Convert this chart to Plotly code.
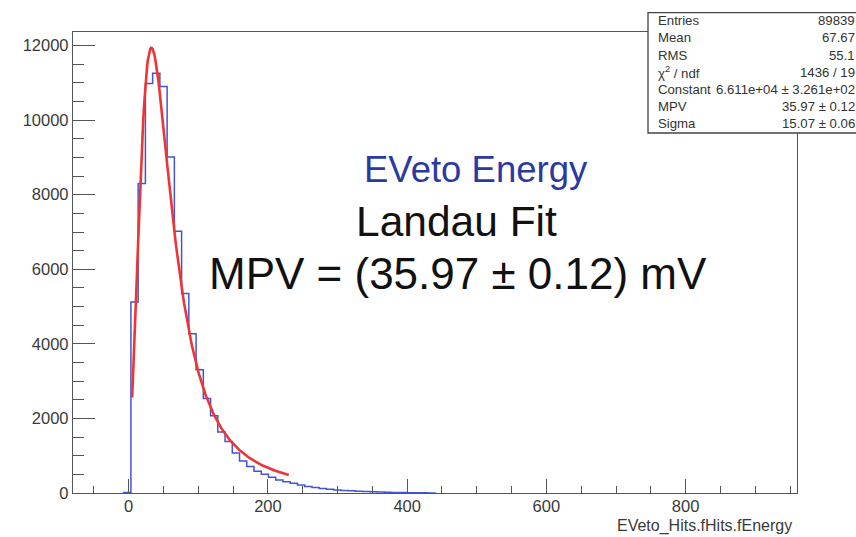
import numpy as np
import plotly.graph_objects as go

# ---- histogram: 100 bins on [-80, 960] ----
x_min, x_max, n_bins = -80.0, 960.0, 100
first_bin = 7  # index of the first filled bin (lower edge -7.2)
counts = [12, 5120, 8300, 10980, 11260, 10900, 9010, 7020, 5350, 4270,
          3306, 2535, 2069, 1635, 1379, 1075, 860, 710, 580, 500,
          420, 350, 305, 260, 215, 175, 145, 120, 100, 82,
          70, 58, 48, 40, 33, 26, 20, 16, 12, 9,
          7, 5, 3]

# ---- Landau fit result ----
fit_const = 6.611e4
fit_mpv = 35.97
fit_sigma = 15.07
fit_lo, fit_hi = 5.0, 230.0

# ---- statistics box ----
stats_labels = ["Entries", "Mean", "RMS", "\u03c7<sup>2</sup> / ndf",
                "Constant", "MPV", "Sigma"]
stats_values = ["89839", "67.67", "55.1", "1436 / 19",
                "6.611e+04 \u00b1 3.261e+02", "35.97 \u00b1 0.12", "15.07 \u00b1 0.06"]

x_ticks = [0, 200, 400, 600, 800]
y_ticks = [0, 2000, 4000, 6000, 8000, 10000, 12000]
y_top = 12364

W, H = 856, 537
ML, MR, MT, MB = 73, 59, 32, 44
PW, PH = W - ML - MR, H - MT - MB


def px(x):
    return (x - ML) / PW


def py(y):
    return (H - MB - y) / PH


def landau_density(lam):
    """Standard Landau density via its integral representation."""
    t = np.linspace(1e-9, 40.0, 200001)
    base = -t * np.log(t)
    s = np.sin(np.pi * t)
    return np.array([np.trapezoid(np.exp(base - l * t) * s, t) / np.pi for l in lam])


bin_w = (x_max - x_min) / n_bins
edges = x_min + bin_w * np.arange(first_bin, first_bin + len(counts) + 1)
hx = [edges[0]] + list(edges[:-1]) + [edges[-1]]
hy = [0] + list(counts) + [0]

fx = np.linspace(fit_lo, fit_hi, 200)
fy = fit_const * landau_density((fx - fit_mpv) / fit_sigma)

fig = go.Figure()
fig.add_trace(go.Scatter(x=hx, y=hy, mode="lines", line_shape="hv",
                         line=dict(color="#4354D6", width=1.5), hoverinfo="skip"))
fig.add_trace(go.Scatter(x=fx, y=fy, mode="lines",
                         line=dict(color="#F03434", width=2.6), hoverinfo="skip"))

axis_col = "#555555"
sans = "Liberation Sans, Arial, sans-serif"
tick_font = dict(family=sans, size=16.5, color="#3a3a3a")

fig.update_xaxes(range=[x_min, x_max], tickvals=x_ticks, ticks="inside", ticklen=14,
                 tickwidth=1.2, tickcolor=axis_col, showline=True, linecolor=axis_col,
                 linewidth=1.3, mirror=True, showgrid=False, zeroline=False,
                 tickfont=tick_font, tickformat="d", ticklabelstandoff=-2,
                 minor=dict(dtick=50, ticks="inside", ticklen=7, tickcolor=axis_col,
                            tickwidth=1.2, showgrid=False))
fig.update_yaxes(range=[0, y_top], tickvals=y_ticks, ticks="inside", ticklen=22,
                 tickwidth=1.2, tickcolor=axis_col, showline=True, linecolor=axis_col,
                 linewidth=1.3, mirror=True, showgrid=False, zeroline=False,
                 tickfont=tick_font, tickformat="d",
                 minor=dict(dtick=500, ticks="inside", ticklen=11, tickcolor=axis_col,
                            tickwidth=1.2, showgrid=False))

annotations = [
    dict(x=px(794), y=py(526), xref="paper", yref="paper", xanchor="right",
         yanchor="middle", showarrow=False, text="EVeto_Hits.fHits.fEnergy",
         font=dict(family=sans, size=16, color="#3a3a3a")),
    dict(x=px(476), y=py(169), xref="paper", yref="paper", xanchor="center",
         yanchor="middle", showarrow=False, text="EVeto Energy",
         font=dict(family=sans, size=36.5, color="#2B3AA0")),
    dict(x=px(456), y=py(221), xref="paper", yref="paper", xanchor="center",
         yanchor="middle", showarrow=False, text="Landau Fit",
         font=dict(family=sans, size=42.5, color="#111111")),
    dict(x=px(458), y=py(273), xref="paper", yref="paper", xanchor="center",
         yanchor="middle", showarrow=False, text="MPV = (35.97 \u00b1 0.12) mV",
         font=dict(family=sans, size=44, color="#111111")),
]

stats_font = dict(family=sans, size=13.2, color="#333333")
for i, (lab, val) in enumerate(zip(stats_labels, stats_values)):
    yc = 21 + 17 * i
    annotations.append(dict(x=px(656), y=py(yc), xref="paper", yref="paper",
                            xanchor="left", yanchor="middle", showarrow=False,
                            text=lab, font=stats_font))
    annotations.append(dict(x=px(857), y=py(yc), xref="paper", yref="paper",
                            xanchor="right", yanchor="middle", showarrow=False,
                            text=val, font=stats_font))

shapes = [dict(type="rect", xref="paper", yref="paper", x0=px(648), x1=px(900),
               y0=py(133), y1=py(12.7), fillcolor="white",
               line=dict(color="#444444", width=1.3), layer="above")]

fig.update_layout(width=W, height=H, margin=dict(l=ML, r=MR, t=MT, b=MB),
                  paper_bgcolor="white", plot_bgcolor="white", showlegend=False,
                  annotations=annotations, shapes=shapes)

fig.write_html("out.html")
